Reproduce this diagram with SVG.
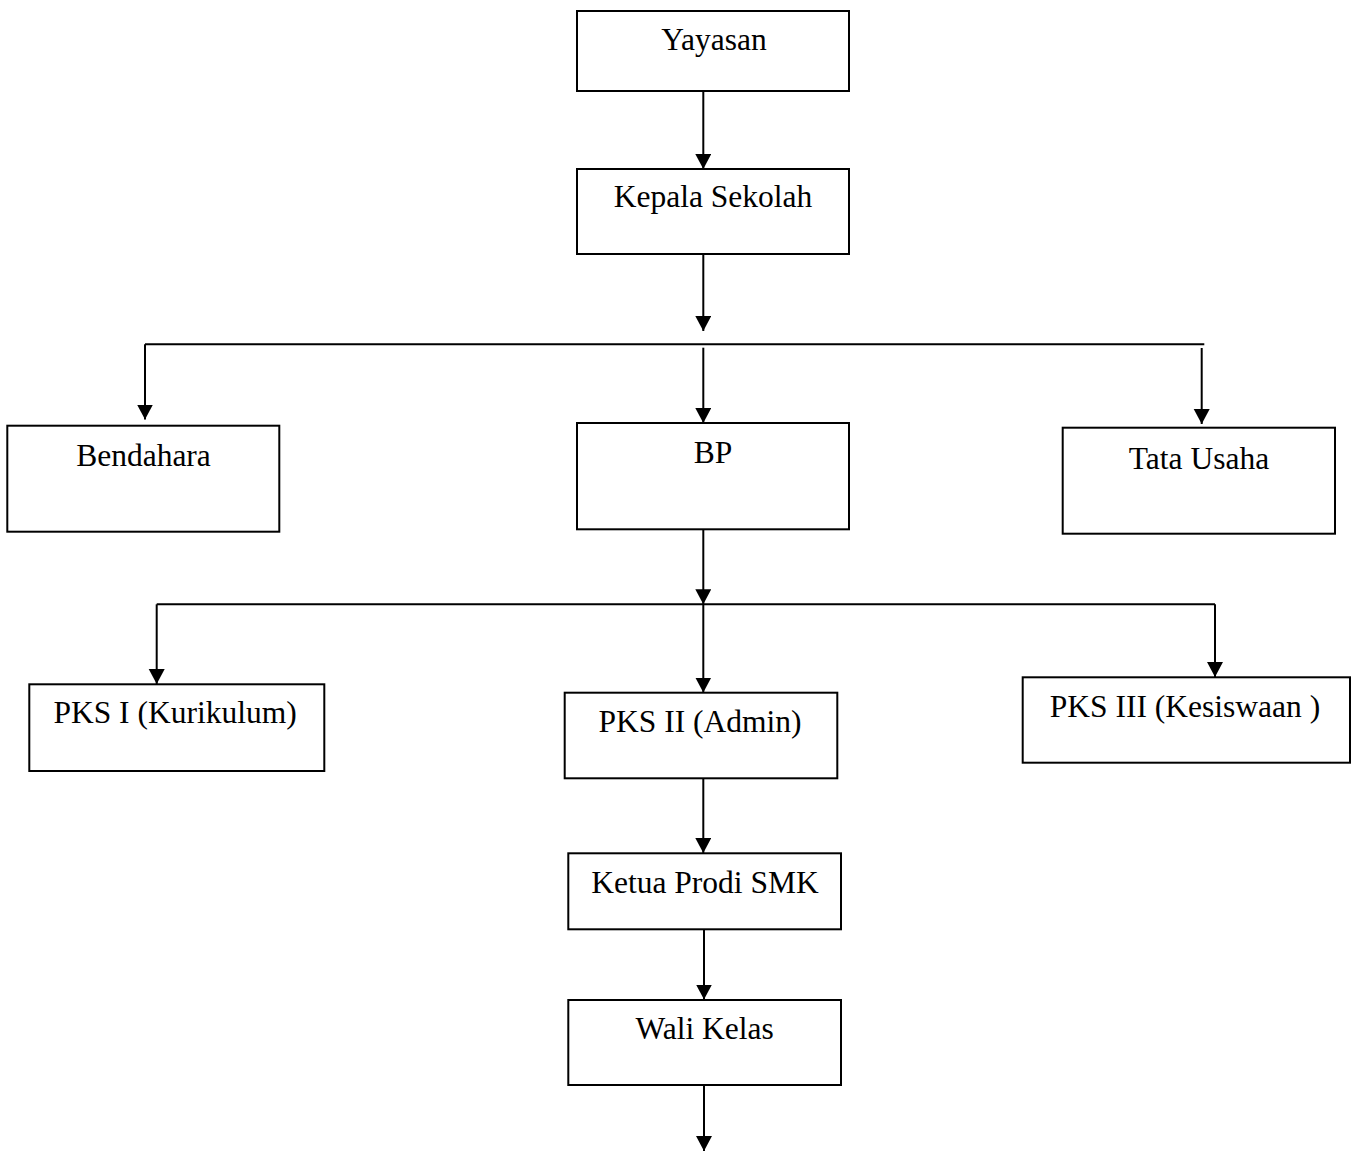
<svg xmlns="http://www.w3.org/2000/svg" width="1354" height="1151" viewBox="0 0 1354 1151">
<style>
.box{fill:#fff;stroke:#000;stroke-width:2}
.lbl{font-family:"Liberation Serif","Times New Roman",serif;font-size:31.5px;fill:#000;text-anchor:middle}
.ln{fill:none;stroke:#000;stroke-width:2}
</style>
<defs>
<marker id="ah" markerUnits="userSpaceOnUse" markerWidth="17" markerHeight="17" refX="15" refY="8" orient="auto">
<path d="M0,0 L15,8 L0,16 z" fill="#000"/>
</marker>
</defs>
<rect width="1354" height="1151" fill="#fff"/>
<g id="connectors">
<line class="ln" x1="703.3" y1="91" x2="703.3" y2="169" marker-end="url(#ah)"/>
<line class="ln" x1="703.3" y1="254" x2="703.3" y2="331" marker-end="url(#ah)"/>
<line class="ln" x1="145" y1="344.3" x2="1204.3" y2="344.3"/>
<line class="ln" x1="145" y1="344.3" x2="145" y2="419.5" marker-end="url(#ah)"/>
<line class="ln" x1="703.3" y1="347.7" x2="703.3" y2="423" marker-end="url(#ah)"/>
<line class="ln" x1="1201.7" y1="348" x2="1201.7" y2="424" marker-end="url(#ah)"/>
<line class="ln" x1="703.3" y1="529" x2="703.3" y2="604.3" marker-end="url(#ah)"/>
<line class="ln" x1="156.7" y1="604.3" x2="1215" y2="604.3"/>
<line class="ln" x1="156.7" y1="604.3" x2="156.7" y2="684" marker-end="url(#ah)"/>
<line class="ln" x1="703.3" y1="604.3" x2="703.3" y2="692.5" marker-end="url(#ah)"/>
<line class="ln" x1="1215" y1="604.3" x2="1215" y2="677" marker-end="url(#ah)"/>
<line class="ln" x1="703.3" y1="778" x2="703.3" y2="853" marker-end="url(#ah)"/>
<line class="ln" x1="704" y1="924" x2="704" y2="999.5" marker-end="url(#ah)"/>
<line class="ln" x1="704" y1="1081.7" x2="704" y2="1151" marker-end="url(#ah)"/>
</g>
<g id="yayasan"><rect class="box" x="577" y="11" width="272" height="80"/><text class="lbl" x="714" y="50">Yayasan</text></g>
<g id="kepala-sekolah"><rect class="box" x="577" y="169" width="272" height="85"/><text class="lbl" x="713" y="207">Kepala Sekolah</text></g>
<g id="bendahara"><rect class="box" x="7.3" y="425.7" width="272" height="106"/><text class="lbl" x="143.5" y="466">Bendahara</text></g>
<g id="bp"><rect class="box" x="577" y="423" width="272" height="106.3"/><text class="lbl" x="713" y="463">BP</text></g>
<g id="tata-usaha"><rect class="box" x="1062.7" y="427.7" width="272.3" height="106"/><text class="lbl" x="1199" y="469">Tata Usaha</text></g>
<g id="pks-1"><rect class="box" x="29.3" y="684.3" width="295" height="86.7"/><text class="lbl" x="175" y="723">PKS I (Kurikulum)</text></g>
<g id="pks-2"><rect class="box" x="564.7" y="692.7" width="272.6" height="85.6"/><text class="lbl" x="700" y="732">PKS II (Admin)</text></g>
<g id="pks-3"><rect class="box" x="1022.7" y="677.3" width="327.3" height="85.4"/><text class="lbl" x="1185" y="717">PKS III (Kesiswaan )</text></g>
<g id="ketua-prodi"><rect class="box" x="568.3" y="853.3" width="272.7" height="76"/><text class="lbl" x="705" y="893">Ketua Prodi SMK</text></g>
<g id="wali-kelas"><rect class="box" x="568.3" y="1000" width="272.7" height="85"/><text class="lbl" x="704.7" y="1039">Wali Kelas</text></g>
</svg>
